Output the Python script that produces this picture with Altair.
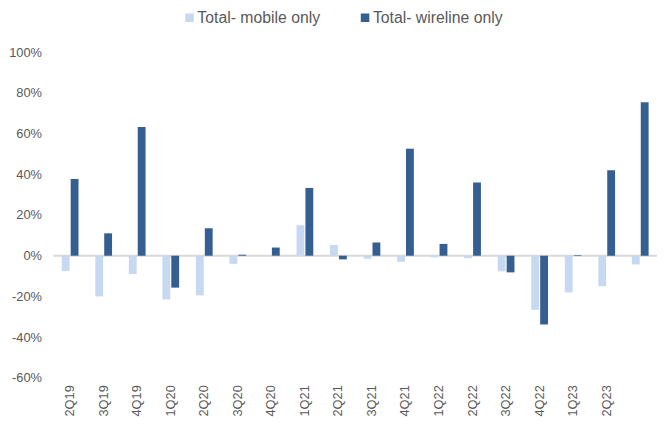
import altair as alt
import pandas as pd

quarters = ["2Q19", "3Q19", "4Q19", "1Q20", "2Q20", "3Q20", "4Q20", "1Q21", "2Q21",
            "3Q21", "4Q21", "1Q22", "2Q22", "3Q22", "4Q22", "1Q23", "2Q23", "3Q23"]
mobile_only = [-0.075, -0.20, -0.09, -0.215, -0.195, -0.04, 0.0, 0.15, 0.053,
               -0.015, -0.03, -0.008, -0.012, -0.077, -0.266, -0.18, -0.15, -0.043]
wireline_only = [0.377, 0.11, 0.633, -0.157, 0.135, 0.005, 0.04, 0.333, -0.018,
                 0.065, 0.526, 0.058, 0.36, -0.082, -0.338, 0.003, 0.42, 0.754]
series_names = ["Total- mobile only", "Total- wireline only"]
colors = ["#C6D9F0", "#365F91"]

rows = []
for i, q in enumerate(quarters):
    rows.append({"quarter": q, "series": series_names[0], "value": mobile_only[i]})
    rows.append({"quarter": q, "series": series_names[1], "value": wireline_only[i]})
df = pd.DataFrame(rows)

font = "Liberation Sans"
grey = "#595959"

bars = alt.Chart(df).mark_bar().encode(
    x=alt.X("quarter:N", sort=quarters,
            scale=alt.Scale(paddingInner=0.5, paddingOuter=0.25),
            axis=alt.Axis(title=None, labelAngle=270, domain=False, ticks=False,
                          labelPadding=7, labelFont=font, labelFontSize=13,
                          labelColor=grey,
                          labelExpr="datum.value == '3Q23' ? '' : datum.value")),
    xOffset=alt.XOffset("series:N", sort=series_names,
                        scale=alt.Scale(paddingInner=0.12)),
    y=alt.Y("value:Q", scale=alt.Scale(domain=[-0.6, 1.0], nice=False),
            axis=alt.Axis(title=None, values=[-0.6, -0.4, -0.2, 0, 0.2, 0.4, 0.6, 0.8, 1.0],
                          labelExpr="replace(format(datum.value, '.0%'), '\u2212', '-')",
                          domain=False, ticks=False, grid=False, labelPadding=12,
                          labelFont=font, labelFontSize=13, labelColor=grey)),
    color=alt.Color("series:N", sort=series_names,
                    scale=alt.Scale(domain=series_names, range=colors),
                    legend=alt.Legend(title=None, orient="none", direction="horizontal",
                                      legendX=130, legendY=-43, symbolType="square",
                                      symbolSize=75, symbolStrokeWidth=0,
                                      labelFont=font, labelFontSize=16, labelColor=grey,
                                      columnPadding=37, labelOffset=0)),
)

zero = alt.Chart(pd.DataFrame({"y": [0]})).mark_rule(color="#D9D9D9", strokeWidth=2).encode(y="y:Q")

chart = alt.layer(zero, bars).properties(
    width=612, height=330,
    autosize=alt.AutoSizeParams(type="none"),
    padding={"left": 46, "top": 42, "right": 0, "bottom": 45},
).configure_view(stroke=None)

chart.save("out.html", embed_options={"renderer": "svg", "actions": False})
